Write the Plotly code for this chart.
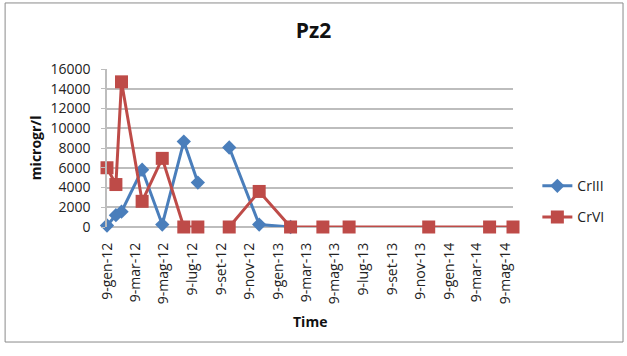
import plotly.graph_objects as go

# Sampling dates (a blank row in Aug 2012 produces the gap in both series)
dates = ["2012-01-09", "2012-01-28", "2012-02-09", "2012-03-24", "2012-05-06",
         "2012-06-21", "2012-07-21", "2012-08-20", "2012-09-26", "2012-11-29",
         "2013-02-04", "2013-04-14", "2013-06-09", "2013-11-26", "2014-04-05",
         "2014-05-25"]
cr_iii = [150, 1200, 1550, 5800, 250, 8650, 4500, None, 8050, 250,
          0, None, None, None, None, None]
cr_vi = [6000, 4300, 14700, 2600, 6950, 0, 0, None, 0, 3600,
         0, 0, 0, 0, 0, 0]

tick_dates = ["2012-01-09", "2012-03-09", "2012-05-09", "2012-07-09", "2012-09-09",
              "2012-11-09", "2013-01-09", "2013-03-09", "2013-05-09", "2013-07-09",
              "2013-09-09", "2013-11-09", "2014-01-09", "2014-03-09", "2014-05-09"]
tick_labels = ["9-gen-12", "9-mar-12", "9-mag-12", "9-lug-12", "9-set-12",
               "9-nov-12", "9-gen-13", "9-mar-13", "9-mag-13", "9-lug-13",
               "9-set-13", "9-nov-13", "9-gen-14", "9-mar-14", "9-mag-14"]
y_ticks = [0, 2000, 4000, 6000, 8000, 10000, 12000, 14000, 16000]
y_tick_labels = ["0", "2000", "4000", "6000", "8000", "10000", "12000", "14000", "16000"]

FONT = "Open Sans"
BLUE = "#4A7EBB"
RED = "#BE4B48"

fig = go.Figure()
fig.add_trace(go.Scatter(
    x=dates, y=cr_iii, name="CrIII", mode="lines+markers", legendgroup="a",
    line=dict(color=BLUE, width=3), connectgaps=False, cliponaxis=False,
    marker=dict(symbol="diamond", size=11, color=BLUE)))
fig.add_trace(go.Scatter(
    x=dates, y=cr_vi, name="CrVI", mode="lines+markers", legendgroup="b",
    line=dict(color=RED, width=3), connectgaps=False, cliponaxis=False,
    marker=dict(symbol="square", size=13, color=RED)))

fig.update_layout(
    width=627, height=356,
    margin=dict(l=107, r=114, t=69, b=129, autoexpand=False),
    paper_bgcolor="white", plot_bgcolor="white",
    font=dict(family=FONT, size=14, color="#222"),
    title=dict(text="<b>Pz2</b>", x=0.5, xanchor="center", y=0.915, yanchor="middle",
               font=dict(family=FONT, size=21, color="#111")),
    showlegend=True,
    legend=dict(x=1.06, xanchor="left", y=0.16, yanchor="middle",
                traceorder="grouped", tracegroupgap=10,
                font=dict(family=FONT, size=14, color="#222"),
                bgcolor="rgba(0,0,0,0)"),
    xaxis=dict(type="date", range=["2012-01-09", "2014-05-25"],
               tickmode="array", tickvals=tick_dates, ticktext=tick_labels,
               tickangle=-90, showgrid=False, zeroline=False, automargin=False,
               showline=False, ticks="", ticklabelstandoff=12,
               tickfont=dict(size=14, color="#222")),
    yaxis=dict(range=[0, 16000], tickmode="array", tickvals=y_ticks,
               ticktext=y_tick_labels, automargin=False,
               showgrid=True, gridcolor="#BDBDBD", gridwidth=1.5,
               zeroline=True, zerolinecolor="#BDBDBD", zerolinewidth=1.5,
               showline=True, linecolor="#BDBDBD", linewidth=1.5,
               ticks="outside", ticklen=4, tickcolor="#BDBDBD",
               ticklabelstandoff=8, tickfont=dict(size=14, color="#222")),
)

fig.add_annotation(text="<b>microgr/l</b>", xref="paper", yref="paper",
                   x=-0.177, y=0.5, textangle=-90, showarrow=False,
                   font=dict(family=FONT, size=14, color="#111"),
                   xanchor="center", yanchor="middle")
fig.add_annotation(text="<b>Time</b>", xref="paper", yref="paper",
                   x=0.5, y=-0.60, showarrow=False,
                   font=dict(family=FONT, size=14, color="#111"),
                   xanchor="center", yanchor="middle")

fig.add_shape(type="rect", xref="paper", yref="paper",
              x0=-0.251, x1=1.271, y0=-0.728, y1=1.418,
              line=dict(color="#8A8A8A", width=1), layer="below")

fig.write_html("out.html", config={"displayModeBar": False},
               post_script="document.body.style.margin='0px';"
                           "document.body.style.overflow='hidden';")
